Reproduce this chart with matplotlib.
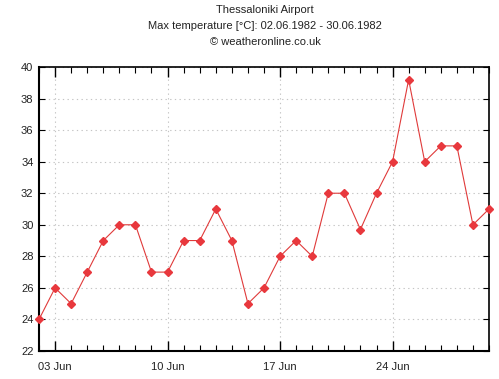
import matplotlib
matplotlib.use("Agg")
import matplotlib.pyplot as plt
from matplotlib.ticker import MultipleLocator, FixedLocator

plt.rcParams['font.family'] = ['Liberation Sans', 'DejaVu Sans']

days = list(range(2, 31))
temps = [24, 26, 25, 27, 29, 30, 30, 27, 27, 29, 29, 31, 29, 25, 26, 28, 29, 28,
         32, 32, 29.7, 32, 34, 39.2, 34, 35, 35, 30, 31]
xtick_days = [3, 10, 17, 24]
xtick_labels = ["03 Jun", "10 Jun", "17 Jun", "24 Jun"]

fig = plt.figure(figsize=(4.99, 3.79), dpi=100)
ax = fig.add_axes([39/499, 28/379, 450/499, 284/379])

ax.plot(days, temps, color='#e03a3a', lw=0.8, marker='D', ms=3.8,
        mfc='#e8383d', mec='#e8383d', zorder=3, clip_on=False)

ax.set_xlim(2, 30)
ax.set_ylim(22, 40)
ax.yaxis.set_major_locator(MultipleLocator(2))
ax.xaxis.set_major_locator(FixedLocator(xtick_days))
ax.xaxis.set_minor_locator(FixedLocator(days))
ax.set_xticklabels(xtick_labels)

ax.grid(True, which='major', color='#c4c4c4', linestyle=(0, (1.2, 3)), lw=0.8)
ax.tick_params(axis='both', which='both', direction='in', top=True, right=True,
               labelsize=8, colors='black', labelcolor='#222222')
ax.tick_params(axis='x', which='major', length=7, width=1, pad=8)
ax.tick_params(axis='x', which='minor', length=4, width=0.8)
ax.tick_params(axis='y', which='major', length=4, width=0.8, pad=4)
for s in ax.spines.values():
    s.set_linewidth(1.2)
ax.spines['left'].set_linewidth(1.5)
ax.spines['bottom'].set_linewidth(1.5)

fig.text(265/499, 1 - 10/379, "Thessaloniki Airport", ha='center', va='center', fontsize=8, color='#222222')
fig.text(265/499, 1 - 26/379, "Max temperature [°C]: 02.06.1982 - 30.06.1982", ha='center', va='center', fontsize=8, color='#222222')
fig.text(265/499, 1 - 42/379, "© weatheronline.co.uk", ha='center', va='center', fontsize=8, color='#222222')

fig.savefig("out.png", dpi=100)
